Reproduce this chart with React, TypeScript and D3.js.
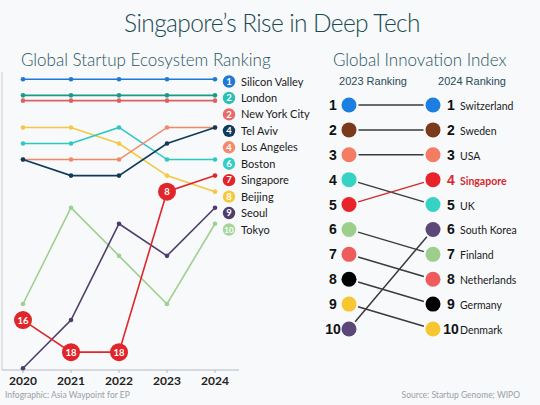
import React from "react";
import * as d3 from "d3";

const years = ["2020", "2021", "2022", "2023", "2024"];

const startupCities = ["Silicon Valley", "London", "New York City", "Tel Aviv", "Los Angeles", "Boston", "Singapore", "Beijing", "Seoul", "Tokyo"];
const startupLegendRanks = ["1", "2", "2", "4", "4", "6", "7", "8", "9", "10"];
const startupColors = ["#1f78d6", "#1a9c84", "#e06060", "#0f3a5a", "#f08a66", "#2ec8c0", "#e0262a", "#f6c745", "#4f3d6d", "#9fd08f"];
const legendCircleColors = ["#1f78d6", "#2cc0b4", "#e86a6a", "#0f3a5a", "#f38a6b", "#33cfc6", "#e0262a", "#f8c83c", "#4f3d6d", "#a6d59a"];
const startupRanks: number[][] = [
  [1, 1, 1, 1, 1],
  [2, 2, 2, 2, 2],
  [2.33, 2.33, 2.33, 2.33, 2.33],
  [6, 7, 7, 5, 4],
  [6, 6, 6, 4, 4],
  [5, 5, 4, 6, 6],
  [16, 18, 18, 8, 7],
  [4, 4, 5, 7, 8],
  [19, 16, 10, 12, 9],
  [15, 9, 12, 15, 10],
];
const singaporeBadges = ["16", "18", "18", "8", ""];

const giiCountries = ["Switzerland", "Sweden", "USA", "UK", "Singapore", "Finland", "Netherlands", "Germany", "Denmark", "South Korea"];
const gii2023 = [1, 2, 3, 4, 5, 6, 7, 8, 9, 10];
const gii2024 = [1, 2, 3, 5, 4, 7, 8, 9, 10, 6];
const giiColors = ["#1a7fe0", "#7b3a1b", "#f47c62", "#36d3c5", "#e8232a", "#9ccf8c", "#ef5a5a", "#000000", "#f8c630", "#5b4778"];

const FONT = "Lato, 'Open Sans', sans-serif";
const ARIAL = "'Liberation Sans', Arial, sans-serif";

export default function App() {
  const x = d3.scalePoint<string>().domain(years).range([23, 215]);
  const y = d3.scaleLinear().domain([1, 19]).range([79.3, 368.2]);
  const line = d3
    .line<[string, number]>()
    .x((d) => x(d[0]) as number)
    .y((d) => y(d[1]));

  const ry = d3.scaleLinear().domain([1, 10]).range([105, 329]);
  const lx = 349;
  const rx = 433;
  const r = 7.5;

  const legendY = d3.scaleLinear().domain([0, 9]).range([81.5, 229.5]);

  const order = [9, 8, 7, 5, 4, 3, 2, 1, 0, 6];

  return (
    <svg
      width={540}
      height={405}
      style={{ position: "fixed", left: 0, top: 0, background: "#f7f9fb" }}
      fontFamily={FONT}
    >
      <rect width={540} height={405} fill="#f7f9fb" />
      <text x={272} y={32} textAnchor="middle" fontSize={24.5} fontWeight={300} letterSpacing={-0.6} fill="#1b4a52">
        Singapore’s Rise in Deep Tech
      </text>
      <text x={21} y={66} fontSize={17} fontWeight={300} fill="#2a5560">
        Global Startup Ecosystem Ranking
      </text>
      <text x={333} y={66} fontSize={17} fontWeight={300} fill="#2a5560">
        Global Innovation Index
      </text>

      {/* left chart axes */}
      <line x1={2} x2={2} y1={72} y2={370} stroke="#c9ccd2" strokeWidth={1} />
      <line x1={2} x2={239} y1={370} y2={370} stroke="#b5b9c0" strokeWidth={1} />
      {years.map((yr) => (
        <g key={yr}>
          <line x1={x(yr)} x2={x(yr)} y1={370} y2={373} stroke="#b5b9c0" />
          <text x={x(yr)} y={385} textAnchor="middle" fontSize={12} fontWeight={700} fill="#222">
            {yr}
          </text>
        </g>
      ))}
      <text x={5} y={398} fontSize={8.5} fill="#9aa0a6">
        Infographic: Asia Waypoint for EP
      </text>

      {order.map((i) => {
        const pts: [string, number][] = years.map((yr, j) => [yr, startupRanks[i][j]]);
        return (
          <g key={startupCities[i]}>
            <path d={line(pts) || ""} fill="none" stroke={startupColors[i]} strokeWidth={1.6} />
            {pts.map((p, j) =>
              i === 6 && singaporeBadges[j] ? null : (
                <circle key={j} cx={x(p[0])} cy={y(p[1])} r={2.3} fill={startupColors[i]} />
              )
            )}
          </g>
        );
      })}
      {years.map((yr, j) =>
        singaporeBadges[j] ? (
          <g key={"b" + yr}>
            <circle cx={x(yr)} cy={y(startupRanks[6][j])} r={9} fill="#e0262a" />
            <text
              x={x(yr)}
              y={y(startupRanks[6][j]) + 3.5}
              textAnchor="middle"
              fontSize={9.5}
              fontWeight={700}
              fill="#fff"
            >
              {singaporeBadges[j]}
            </text>
          </g>
        ) : null
      )}

      {/* legend */}
      {startupCities.map((c, i) => (
        <g key={"lg" + c}>
          <circle cx={229} cy={legendY(i)} r={6.2} fill={legendCircleColors[i]} />
          <text x={229} y={legendY(i) + 3.3} textAnchor="middle" fontSize={startupLegendRanks[i].length > 1 ? 8 : 9.5} fontWeight={700} fill="#fff">
            {startupLegendRanks[i]}
          </text>
          <text x={241} y={legendY(i) + 4} fontSize={11} fill="#1a1a1a">
            {c}
          </text>
        </g>
      ))}

      {/* right chart */}
      <text x={373} y={85} textAnchor="middle" fontSize={11} fontFamily={ARIAL} fill="#2a4a55">
        2023 Ranking
      </text>
      <text x={472} y={85} textAnchor="middle" fontSize={11} fontFamily={ARIAL} fill="#2a4a55">
        2024 Ranking
      </text>
      {giiCountries.map((c, i) => {
        const y1 = ry(gii2023[i]);
        const y2 = ry(gii2024[i]);
        const ang = Math.atan2(y2 - y1, rx - lx);
        const isSg = c === "Singapore";
        return (
          <line
            key={"gl" + c}
            x1={lx + Math.cos(ang) * (r + 2)}
            y1={y1 + Math.sin(ang) * (r + 2)}
            x2={rx - Math.cos(ang) * (r + 2)}
            y2={y2 - Math.sin(ang) * (r + 2)}
            stroke={isSg ? "#d42a2e" : "#3a3a3a"}
            strokeWidth={1.5}
          />
        );
      })}
      {giiCountries.map((c, i) => {
        const isSg = c === "Singapore";
        return (
          <g key={"gc" + c}>
            <circle cx={lx} cy={ry(gii2023[i])} r={r} fill={giiColors[i]} />
            <circle cx={rx} cy={ry(gii2024[i])} r={r} fill={giiColors[i]} />
            <text x={333} y={ry(gii2023[i]) + 5} textAnchor="middle" fontSize={14} fontWeight={700} fontFamily={ARIAL} fill="#111">
              {gii2023[i]}
            </text>
            <text x={451} y={ry(gii2024[i]) + 5} textAnchor="middle" fontSize={14} fontWeight={700} fontFamily={ARIAL} fill={isSg ? "#d42a2e" : "#111"}>
              {gii2024[i]}
            </text>
            <text
              x={460}
              y={ry(gii2024[i]) + 5}
              fontSize={10.5}
              fontWeight={isSg ? 700 : 400}
              fill={isSg ? "#d42a2e" : "#1a1a1a"}
            >
              {c}
            </text>
          </g>
        );
      })}
      <text x={520} y={398} textAnchor="end" fontSize={8.5} fill="#9aa0a6">
        Source: Startup Genome; WIPO
      </text>
    </svg>
  );
}
